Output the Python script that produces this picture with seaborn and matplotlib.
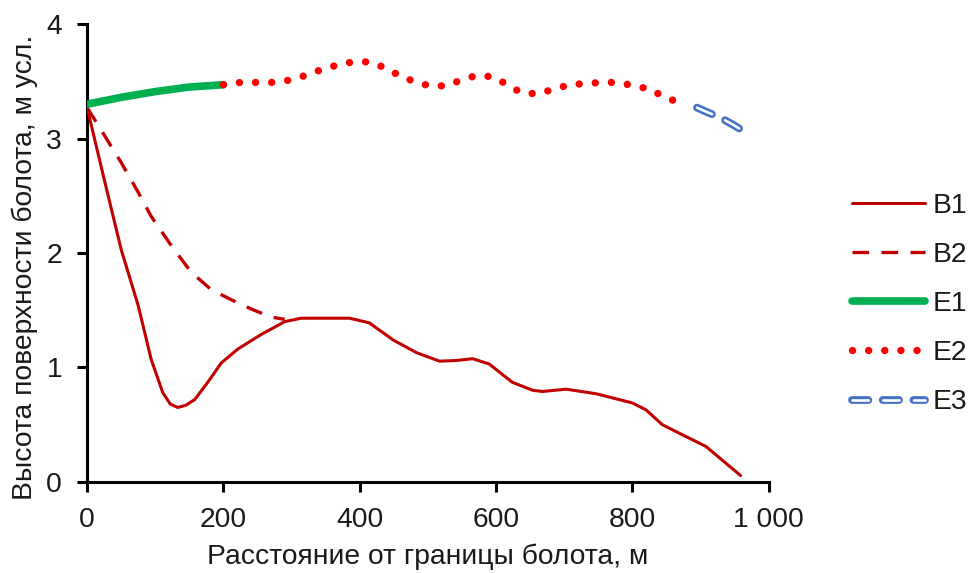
import matplotlib
matplotlib.use("Agg")
import matplotlib.pyplot as plt
from matplotlib.lines import Line2D
import seaborn as sns
import pandas as pd

# ---- data ----
b1_x = [0, 26, 50, 75, 94, 111, 122, 133, 145, 158, 177, 197, 221, 256, 290, 314, 348, 385, 414, 449, 483, 517, 540, 566, 590, 624, 654, 668, 703, 747, 800, 820, 844, 874, 908, 959]
b1_y = [3.27, 2.62, 2.03, 1.54, 1.07, 0.78, 0.68, 0.65, 0.67, 0.72, 0.87, 1.04, 1.16, 1.29, 1.40, 1.43, 1.43, 1.43, 1.39, 1.24, 1.13, 1.055, 1.06, 1.076, 1.03, 0.87, 0.80, 0.79, 0.81, 0.77, 0.69, 0.63, 0.50, 0.41, 0.31, 0.055]

b2_x = [0, 21, 50, 75, 94, 124, 153, 182, 212, 241, 270, 290]
b2_y = [3.27, 3.07, 2.79, 2.53, 2.32, 2.06, 1.83, 1.68, 1.59, 1.51, 1.44, 1.42]

e1_x = [0, 50, 100, 150, 200]
e1_y = [3.30, 3.36, 3.41, 3.45, 3.47]

e2_x = [200, 225, 249, 273, 297, 320, 343, 366, 390, 412, 437, 458, 479, 502, 526, 549, 571, 595, 617, 637, 661, 684, 708, 731, 755, 779, 803, 827, 847, 857, 880]
e2_y = [3.47, 3.49, 3.49, 3.49, 3.51, 3.55, 3.60, 3.64, 3.67, 3.67, 3.62, 3.55, 3.50, 3.46, 3.46, 3.51, 3.55, 3.54, 3.47, 3.40, 3.39, 3.43, 3.47, 3.48, 3.49, 3.49, 3.46, 3.43, 3.36, 3.34, 3.29]

e3_x = [895, 910, 930, 948, 963]
e3_y = [3.27, 3.23, 3.18, 3.12, 3.065]

series_names = ["B1", "B2", "E1", "E2", "E3"]
x_ticks = [0, 200, 400, 600, 800, 1000]
x_tick_labels = ["0", "200", "400", "600", "800", "1 000"]
y_ticks = [0, 1, 2, 3, 4]
x_label = "Расстояние от границы болота, м"
y_label = "Высота поверхности болота, м усл."

sns.set_theme(style="white")
plt.rcParams["font.family"] = ["Liberation Sans", "DejaVu Sans"]

fig = plt.figure(figsize=(9.68, 5.73), dpi=100)
ax = fig.add_axes([0.090, 0.159, 0.704, 0.799])

DARK_RED = "#C00000"
GREEN = "#00B050"
RED = "#FF0000"
BLUE = "#4472C4"
TXT = "#1a1a1a"
FS = 20.3

df_b1 = pd.DataFrame({"x": b1_x, "y": b1_y})
df_b2 = pd.DataFrame({"x": b2_x, "y": b2_y})
df_e1 = pd.DataFrame({"x": e1_x, "y": e1_y})
df_e2 = pd.DataFrame({"x": e2_x, "y": e2_y})
df_e3 = pd.DataFrame({"x": e3_x, "y": e3_y})

sty_b1 = dict(color=DARK_RED, lw=2.2, solid_joinstyle="round")
sty_b2 = dict(color=DARK_RED, lw=2.4, linestyle=(0, (5.0, 3.7)))
sty_e1 = dict(color=GREEN, lw=5.5, solid_capstyle="round")
sty_e2 = dict(color=RED, lw=5.3, linestyle=(0, (0.01, 2.18)), dash_capstyle="round")
sty_e3a = dict(color=BLUE, lw=5.6, linestyle=(0, (2.1, 1.85)), dash_capstyle="round")
sty_e3b = dict(color="white", lw=1.9, linestyle=(0, (6.2, 5.45)), dash_capstyle="round")

sns.lineplot(data=df_b1, x="x", y="y", ax=ax, zorder=3, **sty_b1)
sns.lineplot(data=df_b2, x="x", y="y", ax=ax, zorder=3, **sty_b2)
sns.lineplot(data=df_e1, x="x", y="y", ax=ax, zorder=4, **sty_e1)
sns.lineplot(data=df_e2, x="x", y="y", ax=ax, zorder=4, **sty_e2)
sns.lineplot(data=df_e3, x="x", y="y", ax=ax, zorder=4, **sty_e3a)
sns.lineplot(data=df_e3, x="x", y="y", ax=ax, zorder=5, **sty_e3b)

ax.set_xlim(0, 1000)
ax.set_ylim(0, 4)
ax.set_xticks(x_ticks)
ax.set_xticklabels(x_tick_labels)
ax.set_yticks(y_ticks)
ax.set_xlabel(x_label, fontsize=FS, labelpad=8, color=TXT)
ax.set_ylabel(y_label, fontsize=FS, color=TXT)
ax.yaxis.set_label_coords(-0.072, 0.468)
ax.tick_params(axis="both", labelsize=FS, direction="out", length=7, width=2.2,
               colors="black", labelcolor=TXT, bottom=True, left=True)
ax.tick_params(axis="x", pad=11)
ax.tick_params(axis="y", pad=11)
for s in ["top", "right"]:
    ax.spines[s].set_visible(False)
for s in ["left", "bottom"]:
    ax.spines[s].set_linewidth(2.2)
    ax.spines[s].set_color("black")
ax.grid(False)

handles = [
    Line2D([], [], **sty_b1),
    Line2D([], [], **sty_b2),
    Line2D([], [], **sty_e1),
    Line2D([], [], **sty_e2),
    (Line2D([], [], **sty_e3a), Line2D([], [], **sty_e3b)),
]
leg = fig.legend(handles, series_names, loc="upper left", bbox_to_anchor=(0.868, 0.683),
                 frameon=False, fontsize=FS, handlelength=2.6, labelspacing=0.82,
                 handletextpad=0.28, borderaxespad=0)
for t in leg.get_texts():
    t.set_color(TXT)

fig.savefig("out.png", dpi=100)
